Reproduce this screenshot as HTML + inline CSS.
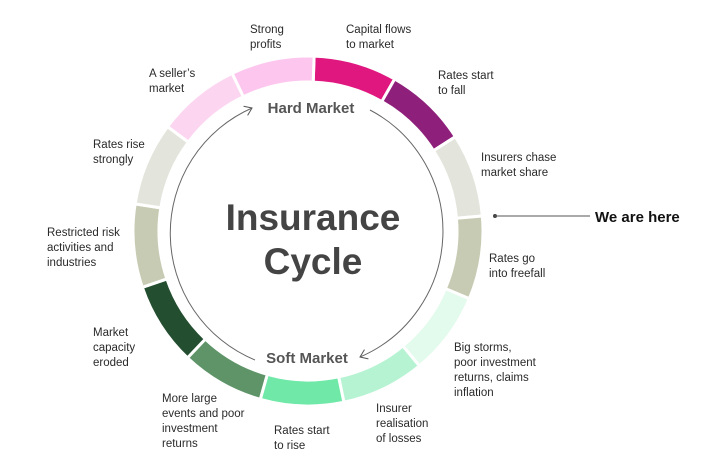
<!DOCTYPE html>
<html><head><meta charset="utf-8"><style>
html,body{margin:0;padding:0;background:#fff;}
svg{display:block;font-family:"Liberation Sans",sans-serif;}
.l{font-size:11.5px;fill:#2a2a2a;}
</style></head><body>
<svg id="s" width="704" height="468" viewBox="0 0 704 468" xmlns="http://www.w3.org/2000/svg">
<defs>
<marker id="ar" markerWidth="12" markerHeight="12" refX="9" refY="6" orient="auto" markerUnits="userSpaceOnUse">
<path d="M2,1 L9,6 L2,11" fill="none" stroke="#555" stroke-width="1"/>
</marker>
</defs>
<g id="segs"></g>
<path d="M255,360 A137,137 0 0 1 252,108" fill="none" stroke="#666" stroke-width="1" marker-end="url(#ar)"/>
<path d="M370,110 A137,137 0 0 1 360,357" fill="none" stroke="#666" stroke-width="1" marker-end="url(#ar)"/>
<text x="311" y="113" text-anchor="middle" font-size="15" font-weight="bold" fill="#555">Hard Market</text>
<text x="307" y="363" text-anchor="middle" font-size="15" font-weight="bold" fill="#555">Soft Market</text>
<text x="313" y="230" text-anchor="middle" font-size="37" font-weight="bold" fill="#444">Insurance</text>
<text x="313" y="274" text-anchor="middle" font-size="37" font-weight="bold" fill="#444">Cycle</text>
<circle cx="495" cy="216" r="2" fill="#444"/>
<line x1="495" y1="216" x2="590" y2="216" stroke="#555" stroke-width="1"/>
<text x="595" y="222" font-size="15" font-weight="bold" fill="#111">We are here</text>
<g class="l">
<text x="250" y="33" class="l">Strong</text><text x="250" y="48" class="l">profits</text>
<text x="346" y="33" class="l">Capital flows</text><text x="346" y="48" class="l">to market</text>
<text x="438" y="79" class="l">Rates start</text><text x="438" y="94" class="l">to fall</text>
<text x="481" y="161" class="l">Insurers chase</text><text x="481" y="176" class="l">market share</text>
<text x="489" y="262" class="l">Rates go</text><text x="489" y="277" class="l">into freefall</text>
<text x="454" y="351" class="l">Big storms,</text><text x="454" y="366" class="l">poor investment</text><text x="454" y="381" class="l">returns, claims</text><text x="454" y="396" class="l">inflation</text>
<text x="376" y="412" class="l">Insurer</text><text x="376" y="427" class="l">realisation</text><text x="376" y="442" class="l">of losses</text>
<text x="274" y="434" class="l">Rates start</text><text x="274" y="449" class="l">to rise</text>
<text x="162" y="402" class="l">More large</text><text x="162" y="417" class="l">events and poor</text><text x="162" y="432" class="l">investment</text><text x="162" y="447" class="l">returns</text>
<text x="93" y="336" class="l">Market</text><text x="93" y="351" class="l">capacity</text><text x="93" y="366" class="l">eroded</text>
<text x="47" y="236" class="l">Restricted risk</text><text x="47" y="251" class="l">activities and</text><text x="47" y="266" class="l">industries</text>
<text x="93" y="148" class="l">Rates rise</text><text x="93" y="163" class="l">strongly</text>
<text x="149" y="77" class="l">A seller’s</text><text x="149" y="92" class="l">market</text>
</g>
</svg>
<script>
(function(){
var cx=308,cy=231,R=175,r=149,n=13,off=2;
var cols=["#e0177f","#8e1f7a","#e3e5dc","#c8cbb3","#e3fbec","#b6f3d2","#6fe8a8","#5e9468","#244e30","#c8cbb3","#e3e5dc","#fcd6f1","#fcc6ee"];
var g=document.getElementById("segs"),h="";
function p(a,rad){var t=(a-90)*Math.PI/180;return [(cx+rad*Math.cos(t)).toFixed(2),(cy+rad*Math.sin(t)).toFixed(2)];}
for(var i=0;i<n;i++){
var a0=off+i*360/n,a1=off+(i+1)*360/n;
var A=p(a0,R),B=p(a1,R),C=p(a1,r),D=p(a0,r);
h+='<path d="M'+A+' A'+R+','+R+' 0 0 1 '+B+' L'+C+' A'+r+','+r+' 0 0 0 '+D+' Z" fill="'+cols[i]+'" stroke="#fff" stroke-width="3"/>';
}
g.innerHTML=h;
})();
</script>
</body></html>
